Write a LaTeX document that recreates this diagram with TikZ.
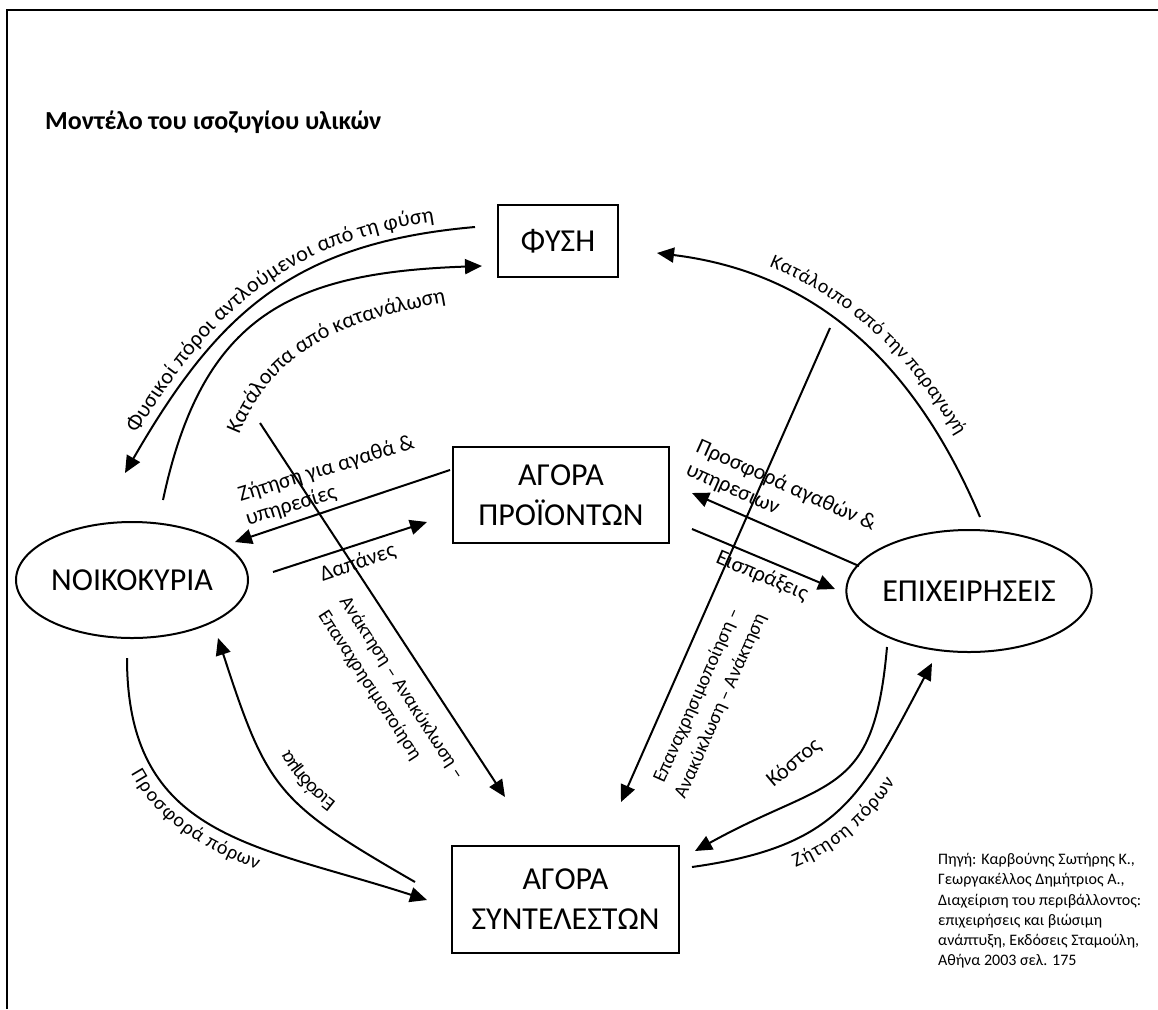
\documentclass[tikz,border=0pt]{standalone}
\usepackage{fontspec}
\setmainfont{Carlito}
\usepackage{tikz}
\usetikzlibrary{arrows.meta,shapes,calc,decorations.text}
\newcommand{\boxsize}{\fontsize{32}{40}\selectfont}
\newcommand{\lblsize}{\fontsize{22}{25}\selectfont}
\newcommand{\curvsize}{\fontsize{20}{24}\selectfont}
\newcommand{\diagsize}{\fontsize{19.5}{25.5}\selectfont}
\newcommand{\srcsize}{\fontsize{16}{20.3}\selectfont}
\tikzstyle{market}=[rectangle, draw, line width=1.5pt
,align=center
,inner sep=0pt
,font=\boxsize
]
\tikzstyle{agent}=[ellipse, draw, line width=2pt
,inner sep=0pt
,font=\boxsize
]
\tikzstyle{flow} = [draw,line width=2pt]
\tikzstyle{lbl} = [font=\lblsize, inner sep=0pt, align=left]
% text along a flow: raise, left indent, text
\tikzset{along/.style n args={3}{postaction={decorate,decoration={text along path,
  text align={left indent=#2}, raise=#1, text={|\curvsize|#3}}}}}

\begin{document}
\begin{tikzpicture}[x=1pt,y=-1pt,>={Triangle[length=17pt,width=15pt]}]
    \useasboundingbox (0,0) rectangle (1158,1009);
    % frame and title
    \draw[line width=2pt] (7,1009) -- (7,10) -- (1158,10);
    \node[anchor=base west, inner sep=0pt, font=\fontsize{26}{30}\selectfont\bfseries] (title) at (45,129) {Μοντέλο του ισοζυγίου υλικών};
    % First we draw the markets and the agents
    \node[market, minimum width=120pt, minimum height=72pt] (fysi) at (558,241) {ΦΥΣΗ};
    \node[market, minimum width=216pt, minimum height=96pt] (proi) at (561,495) {ΑΓΟΡΑ\\ΠΡΟΪΟΝΤΩΝ};
    \node[market, minimum width=227pt, minimum height=107pt] (synt) at (565.5,899.5) {ΑΓΟΡΑ\\ΣΥΝΤΕΛΕΣΤΩΝ};
    \node[agent, minimum width=232pt, minimum height=116pt] (noik) at (132,580) {ΝΟΙΚΟΚΥΡΙΑ};
    \node[agent, minimum width=222pt, minimum height=122pt] (epix) at (969,591) {ΕΠΙΧΕΙΡΗΣΕΙΣ};
    % Flows to and from nature
    \draw[flow,<-,postaction={decorate,decoration={text along path,text align=center,raise=10pt,text={|\lblsize|Φυσικοί πόροι αντλούμενοι από τη φύση}}}] ($(noik)+(-7,-107)$) to[out=60,in=185,looseness=1.1] ($(fysi)+(-83,-14)$);
    \draw[flow,->] ($(noik)+(31,-80)$) to[out=78,in=182,looseness=1.23] ($(fysi)+(-76,25)$);
    \path[decorate,decoration={text along path,text align=center,text={|\lblsize|Κατάλοιπα από κατανάλωση}}] ($(noik)+(108,-147)$) to[out=68,in=190] ($(fysi)+(-114,62)$);
    \draw[flow,<-,along={15pt}{110pt}{Κατάλοιπο από  την παραγωγή}] ($(fysi)+(99,12)$) to[out=-7,in=113] ($(epix)+(11,-74)$);
    % Market of products
    \draw[flow,->] ($(proi)+(-111,-25)$) -- ($(noik)+(103,-38)$);
    \node[lbl, rotate=17] (zitisi) at (330,481) {Ζήτηση για αγαθά \&\\υπηρεσίες};
    \draw[flow,->] ($(noik)+(141,-8)$) -- ($(proi)+(-134,27)$);
    \node[lbl, rotate=19] (dapanes) at (358,563) {Δαπάνες};
    \draw[flow,->] ($(epix)+(-110,-25)$) -- ($(proi)+(131,-2)$);
    \node[lbl, rotate=-24] (prosfora) at (781,497) {Προσφορά αγαθών \&\\υπηρεσιων};
    \draw[flow,->] ($(proi)+(131,34)$) -- ($(epix)+(-134,-2)$);
    \node[lbl, rotate=-23] (eispraxeis) at (762,576) {Εισπράξεις};
    % Recovery lines
    \coordinate (anakt) at (260,423);
    \coordinate (epan) at (830,328);
    \draw[flow,->] (anakt) -- ($(synt)+(-60.5,-102.5)$);
    \node[lbl, font=\diagsize, rotate=-57] (anaktlbl) at (391,695) {Ανάκτηση – Ανακύκλωση –\\Επαναχρησιμοποίηση};
    \draw[flow,->] (epan) -- ($(synt)+(55.5,-97.5)$);
    \node[lbl, font=\diagsize, rotate=66, align=center] (epanlbl) at (709,701) {Επαναχρησιμοποίηση –\\Ανακύκλωση – Ανάκτηση};
    % Market of factors
    \draw[flow,->,along={-26pt}{112pt}{Εισόδημα}] ($(synt)+(-150.5,-17.5)$) to[out=150,in=-72,looseness=1.3] ($(noik)+(86,58)$);
    \draw[flow,->,along={-21pt}{108pt}{Προσφορά πόρων}] ($(noik)+(-5,78)$) to[out=-90,in=162,looseness=1.2] ($(synt)+(-138.5,0.5)$);
    \draw[flow,->] ($(epix)+(-82,56)$) to[out=265,in=29,looseness=1.4] ($(synt)+(129.5,-48.5)$);
    \node[lbl, rotate=40] (kostos) at (794,763) {Κόστος};
    \draw[flow,->,along={-26pt}{96pt}{Ζήτηση πόρων}] ($(synt)+(126.5,-32.5)$) to[out=8,in=242,looseness=1.22] ($(epix)+(-37,72)$);
    % Source
    \node[anchor=north west, inner sep=0pt, align=left, font=\srcsize] (pigi) at (938,853) {Πηγή: Καρβούνης Σωτήρης Κ.,\\Γεωργακέλλος Δημήτριος Α.,\\Διαχείριση του περιβάλλοντος:\\επιχειρήσεις και βιώσιμη\\ανάπτυξη, Εκδόσεις Σταμούλη,\\Αθήνα 2003 σελ. 175};
\end{tikzpicture}
\end{document}
